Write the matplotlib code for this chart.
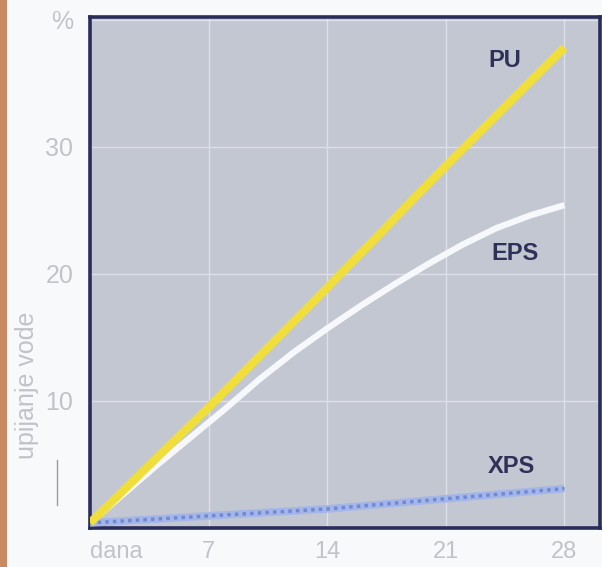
import matplotlib
matplotlib.use("Agg")
import matplotlib.pyplot as plt
from matplotlib.lines import Line2D
from matplotlib.patches import Rectangle

plt.rcParams['font.family'] = ['Liberation Sans', 'DejaVu Sans']

# ---- data ----
pu_days = [0, 7, 14, 21, 28]
pu_vals = [0.4, 9.5, 18.9, 28.5, 37.8]

eps_days = [0, 2, 4, 6, 8, 10, 12, 14, 16, 18, 20, 22, 24, 26, 28]
eps_vals = [0.4, 2.7, 5.0, 7.2, 9.4, 11.7, 13.8, 15.7, 17.5, 19.2, 20.8, 22.3, 23.6, 24.6, 25.4]

xps_days = [0, 7, 14, 21, 28]
xps_vals = [0.4, 0.95, 1.5, 2.3, 3.1]

x_ticks = [0, 7, 14, 21, 28]
x_labels = ['dana', '7', '14', '21', '28']
y_ticks = [10, 20, 30, 40]
y_labels = ['10', '20', '30', '%']

series_labels = ['PU', 'EPS', 'XPS']
label_pos = [(24.5, 36.8), (25.1, 21.6), (24.9, 4.8)]

# ---- figure ----
fig = plt.figure(figsize=(6.02, 5.67), dpi=100, facecolor='#f8f9fb')
fig.add_artist(Rectangle((0, 0), 7 / 602, 1, transform=fig.transFigure,
                         facecolor='#c98a62', edgecolor='none'))

ax = fig.add_axes([90 / 602, 1 - 528 / 567, 510 / 602, 511 / 567])
ax.set_facecolor('#c3c7d2')
ax.set_xlim(0, 30.1)
ax.set_ylim(0, 40.2)

for s in ax.spines.values():
    s.set_color('#2a2d5a')
    s.set_linewidth(2.6)

ax.set_xticks(x_ticks)
ax.set_xticklabels(x_labels)
ax.set_yticks(y_ticks)
ax.set_yticklabels(y_labels)
ax.tick_params(length=0, colors='#c2c3c9')
ax.tick_params(axis='y', labelsize=18, pad=12)
ax.tick_params(axis='x', labelsize=17, pad=9)
ax.get_xticklabels()[0].set_horizontalalignment('left')
ax.grid(True, color='#dde0e8', linewidth=1.0)
ax.set_axisbelow(True)

ax.set_ylabel('upijanje vode', color='#c2c3c9', fontsize=18)
ax.yaxis.set_label_coords(-0.100, 0.28)

# lines
ax.plot(pu_days, pu_vals, color='#f0de3c', linewidth=6.0, solid_capstyle='butt', zorder=4)
ax.plot(eps_days, eps_vals, color='#f7f8fb', linewidth=4.5, solid_capstyle='butt', zorder=3)
ax.plot(xps_days, xps_vals, color='#a4b6e8', linewidth=5.5, solid_capstyle='butt', zorder=3)
ax.plot(xps_days, xps_vals, color='#7189d4', linewidth=2.5, linestyle=(0, (1, 1.2)),
        solid_capstyle='butt', zorder=3)

for lab, (lx, ly) in zip(series_labels, label_pos):
    ax.text(lx, ly, lab, ha='center', va='center', fontsize=17, fontweight='bold',
            color='#2e3158', zorder=5)

# small vertical mark at the left of the axis
fig.add_artist(Line2D([57 / 602, 57 / 602], [1 - 505 / 567, 1 - 460 / 567],
                      transform=fig.transFigure, color='#9a9aa2', linewidth=1.0))

fig.savefig('out.png', dpi=100, facecolor=fig.get_facecolor())
